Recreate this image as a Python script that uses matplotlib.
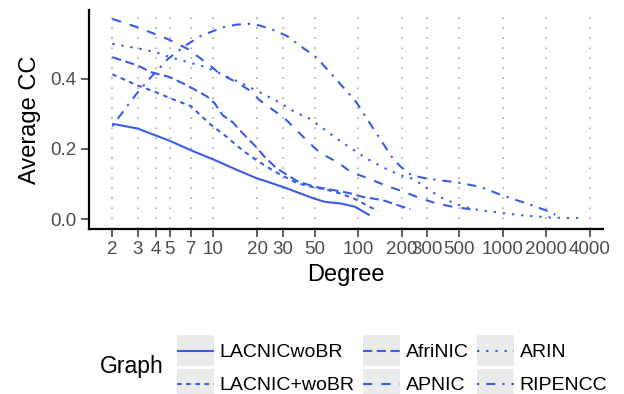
import matplotlib
matplotlib.use('Agg')
import matplotlib.pyplot as plt
from matplotlib.lines import Line2D
from matplotlib.patches import Rectangle
from matplotlib.ticker import NullLocator

plt.rcParams['font.family'] = 'Liberation Sans'

# average clustering coefficient by node degree (smoothed), one curve per graph
lacnic_wobr_deg = [2, 3, 5, 7, 10, 14, 20, 23, 30, 43, 50, 59, 77, 95, 120]
lacnic_wobr_cc = [0.272, 0.258, 0.223, 0.196, 0.17, 0.143, 0.116, 0.108, 0.092,
                  0.068, 0.058, 0.049, 0.044, 0.035, 0.011]

lacnic_plus_deg = [2, 3, 4, 5, 7, 9.4, 12.3, 15.9, 19.8, 24.3, 29.5, 33, 38, 50,
                   62, 75, 92, 106, 120, 137]
lacnic_plus_cc = [0.413, 0.381, 0.362, 0.345, 0.322, 0.272, 0.235, 0.196, 0.168,
                  0.145, 0.125, 0.115, 0.102, 0.09, 0.083, 0.073, 0.06, 0.047,
                  0.035, 0.023]

afrinic_deg = [2, 3, 3.7, 5, 6.6, 9, 10.2, 11.6, 13.6, 15.9, 19.8, 22.6, 27.3,
               32.6, 38, 50, 63, 87, 108, 148, 186, 229]
afrinic_cc = [0.462, 0.438, 0.419, 0.405, 0.381, 0.35, 0.33, 0.296, 0.276, 0.245,
              0.205, 0.177, 0.145, 0.125, 0.108, 0.092, 0.085, 0.074, 0.063,
              0.054, 0.04, 0.028]

apnic_deg = [2, 3, 4.8, 6.6, 9.5, 11, 14.5, 17.8, 20.9, 27.3, 32, 44, 54, 74, 89,
             116, 152, 209, 266, 345, 450, 550, 670]
apnic_cc = [0.571, 0.547, 0.514, 0.486, 0.438, 0.415, 0.39, 0.367, 0.339, 0.304,
            0.282, 0.225, 0.19, 0.159, 0.134, 0.117, 0.097, 0.077, 0.06, 0.045,
            0.035, 0.03, 0.025]

arin_deg = [2, 3, 4, 5, 6.6, 9, 10, 16.9, 21.8, 28.4, 37, 46, 71, 87, 113, 148,
            195, 239, 299, 367, 481, 600, 700, 1000, 1400, 2000, 2600, 3350]
arin_cc = [0.5, 0.487, 0.476, 0.462, 0.448, 0.433, 0.424, 0.381, 0.358, 0.333,
           0.304, 0.287, 0.23, 0.205, 0.174, 0.148, 0.125, 0.115, 0.088, 0.063,
           0.042, 0.03, 0.025, 0.017, 0.01, 0.005, 0.003, 0.003]

ripe_deg = [2, 2.55, 3, 3.7, 4.85, 6.4, 8.2, 10.2, 11.6, 14.5, 17.8, 21, 25.7, 32,
            41.4, 51.6, 70, 97, 113, 139, 171, 197, 234, 293, 360, 476, 695, 955,
            1175, 1455, 1800, 2100, 2300]
ripe_cc = [0.265, 0.324, 0.362, 0.405, 0.457, 0.495, 0.523, 0.538, 0.547, 0.555,
           0.557, 0.552, 0.54, 0.523, 0.489, 0.461, 0.40, 0.334, 0.291, 0.234,
           0.177, 0.149, 0.125, 0.116, 0.111, 0.105, 0.092, 0.07, 0.057, 0.045,
           0.031, 0.021, 0.012]

graphs = ['LACNICwoBR', 'LACNIC+woBR', 'AfriNIC', 'APNIC', 'ARIN', 'RIPENCC']
degrees = [lacnic_wobr_deg, lacnic_plus_deg, afrinic_deg, apnic_deg, arin_deg, ripe_deg]
ccs = [lacnic_wobr_cc, lacnic_plus_cc, afrinic_cc, apnic_cc, arin_cc, ripe_cc]
# ggplot-like linetypes: solid, 22, 42, 44, 13, 1343
patterns = [None, (2, 2), (4, 2), (4, 4), (1, 3), (1, 3, 4, 3)]

xticks = [2, 3, 4, 5, 7, 10, 20, 30, 50, 100, 200, 300, 500, 1000, 2000, 4000]
yticks = [0.0, 0.2, 0.4]

BLUE = '#3A5CE6'
KEY_BG = '#EBEBEB'
LW = 1.5
DASH_SCALE = 1.1


def linestyle(p):
    if p is None:
        return '-'
    return (0, tuple(v * DASH_SCALE for v in p))


class KeyHandler:
    """legend key: grey box with the line drawn across it"""
    def legend_artist(self, legend, orig_handle, fontsize, handlebox):
        x0, y0 = handlebox.xdescent, handlebox.ydescent
        w, h = handlebox.width, handlebox.height
        tr = handlebox.get_transform()
        bg = Rectangle((-x0, -y0), w, h, facecolor=KEY_BG, edgecolor='none', transform=tr)
        ln = Line2D([-x0, -x0 + w], [-y0 + h / 2, -y0 + h / 2])
        ln.update_from(orig_handle)
        ln.set_transform(tr)
        ln.set_clip_on(False)
        handlebox.add_artist(bg)
        handlebox.add_artist(ln)
        return ln


fig = plt.figure(figsize=(6.24, 3.94), dpi=100)
ax = fig.add_axes([89 / 624, 1 - 229 / 394, 514 / 624, 219 / 394])

lines = []
for name, d, c, p in zip(graphs, degrees, ccs, patterns):
    ln, = ax.plot(d, c, color=BLUE, lw=LW, linestyle=linestyle(p),
                  solid_capstyle='butt', dash_capstyle='butt', label=name)
    lines.append(ln)

ax.set_xscale('log')
ax.set_xlim(1.38, 4920)
ax.set_ylim(-0.0284, 0.5965)
ax.set_xticks(xticks)
ax.set_xticklabels([str(t) for t in xticks])
ax.xaxis.set_minor_locator(NullLocator())
ax.set_yticks(yticks)
ax.set_yticklabels(['0.0', '0.2', '0.4'])

ax.grid(axis='x', which='major', linestyle=(0, (1, 5)), color='#A8A8A8', linewidth=1.2)
ax.set_axisbelow(True)

for s in ['top', 'right']:
    ax.spines[s].set_visible(False)
for s in ['left', 'bottom']:
    ax.spines[s].set_linewidth(1.6)
    ax.spines[s].set_color('black')

ax.tick_params(axis='both', length=5.5, width=1.1, color='#333333',
               labelsize=13.5, labelcolor='#4D4D4D', pad=3.5)

ax.set_xlabel('Degree', fontsize=17, labelpad=4)
ax.set_ylabel('Average CC', fontsize=17)
ax.yaxis.set_label_coords(-0.094, 0.5)

fig.legend(handles=lines, labels=graphs, ncol=3, loc='upper left',
           bbox_to_anchor=(177 / 624, 1 - 335 / 394), frameon=False, borderpad=0,
           borderaxespad=0, handlelength=1.9, handleheight=2.1, handletextpad=0.28,
           columnspacing=0.45, labelspacing=0.12, fontsize=14,
           handler_map={Line2D: KeyHandler()})
fig.text(100 / 624, 1 - 366 / 394, 'Graph', fontsize=16.5, va='center', ha='left')

fig.savefig('out.png', dpi=100)
